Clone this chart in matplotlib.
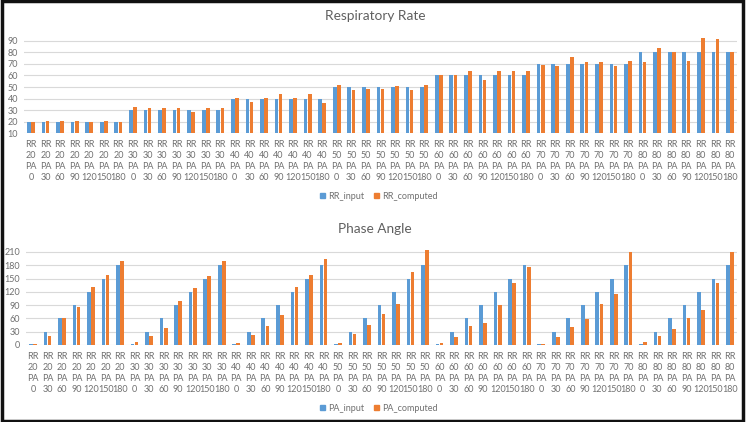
import matplotlib
matplotlib.use("Agg")
import matplotlib.pyplot as plt
from matplotlib.patches import Rectangle, Patch
import numpy as np

rr_levels = [20, 30, 40, 50, 60, 70, 80]
pa_levels = [0, 30, 60, 90, 120, 150, 180]
categories = [f"RR\n{r}\nPA\n{p}" for r in rr_levels for p in pa_levels]

rr_input = [20]*7 + [30]*7 + [40]*7 + [50]*7 + [60]*7 + [70]*7 + [80]*7
rr_computed = [
    20, 20.5, 20.5, 20.5, 20, 20.5, 20,
    32.5, 32, 32, 32, 28, 32, 32,
    40.5, 36.6, 40.5, 43.8, 40.5, 44, 36.3,
    52, 47.6, 48.2, 48, 51.3, 47.6, 52,
    60, 60, 63.5, 55.7, 64.3, 63.5, 64,
    69, 68.5, 76.5, 72, 72, 68, 72.5,
    72, 84, 80, 73, 93, 92, 80,
]

pa_input = [2, 30, 60, 90, 120, 150, 180] * 7
pa_computed = [
    2.5, 20, 60, 86, 130, 157, 189,
    6, 19.5, 39, 100, 128, 156, 189,
    4, 22, 43.5, 68, 130, 159, 193.5,
    4, 25, 45, 70, 92, 164, 214,
    4, 17, 42, 50, 90, 139.5, 175.5,
    3, 17, 40.5, 58.5, 92, 116, 210,
    7, 20, 36, 60, 79, 139.5, 210,
]

BLUE = "#5B9BD5"
ORANGE = "#ED7D31"
TXT = "#707070"
GRID = "#D9D9D9"
FONT = ["Lato", "DejaVu Sans"]
plt.rcParams["font.family"] = FONT

fig = plt.figure(figsize=(7.5, 4.22), dpi=100)
fig.patch.set_facecolor("white")

ax1 = fig.add_axes([0.0316, 0.6848, 0.9514, 0.2317])
ax2 = fig.add_axes([0.0343, 0.1825, 0.9487, 0.2268])

x = np.arange(len(categories))
w = 0.25
off = 0.14

def style(ax, ylim, yticks):
    ax.set_xlim(-0.5, len(categories) - 0.5)
    ax.set_ylim(*ylim)
    ax.set_yticks(yticks)
    ax.set_xticks(x)
    ax.set_xticklabels(categories, fontsize=6.5, color=TXT, linespacing=1.28)
    ax.tick_params(axis="y", labelsize=6.5, labelcolor=TXT, length=0, pad=4)
    ax.tick_params(axis="x", length=0, pad=5)
    for s in ax.spines.values():
        s.set_visible(False)
    ax.grid(axis="y", color=GRID, linewidth=0.8)
    ax.set_axisbelow(True)

ax1.bar(x - off, rr_input, w, color=BLUE)
ax1.bar(x + off, rr_computed, w, color=ORANGE)
style(ax1, (10, 95), list(range(10, 91, 10)))

ax2.bar(x - off, pa_input, w, color=BLUE)
ax2.bar(x + off, pa_computed, w, color=ORANGE)
style(ax2, (0, 216), list(range(0, 211, 30)))

fig.text(0.5, 0.962, "Respiratory Rate", ha="center", va="center", fontsize=9.8, color="#606060")
fig.text(0.5, 0.457, "Phase Angle", ha="center", va="center", fontsize=9.8, color="#606060")

def add_legend(labels, y):
    handles = [Patch(color=BLUE), Patch(color=ORANGE)]
    lg = fig.legend(handles, labels, loc="center", bbox_to_anchor=(0.505, y), ncol=2,
                    frameon=False, fontsize=6.5, handlelength=0.55, handleheight=0.55,
                    handletextpad=0.4, columnspacing=1.0)
    for t in lg.get_texts():
        t.set_color(TXT)

add_legend(["RR_input", "RR_computed"], 0.5355)
add_legend(["PA_input", "PA_computed"], 0.033)

fig.patches.append(Rectangle((0.002, 0.002), 0.989, 0.995, transform=fig.transFigure,
                             fill=False, edgecolor="#111111", linewidth=2.5))

fig.savefig("out.png", dpi=100)
